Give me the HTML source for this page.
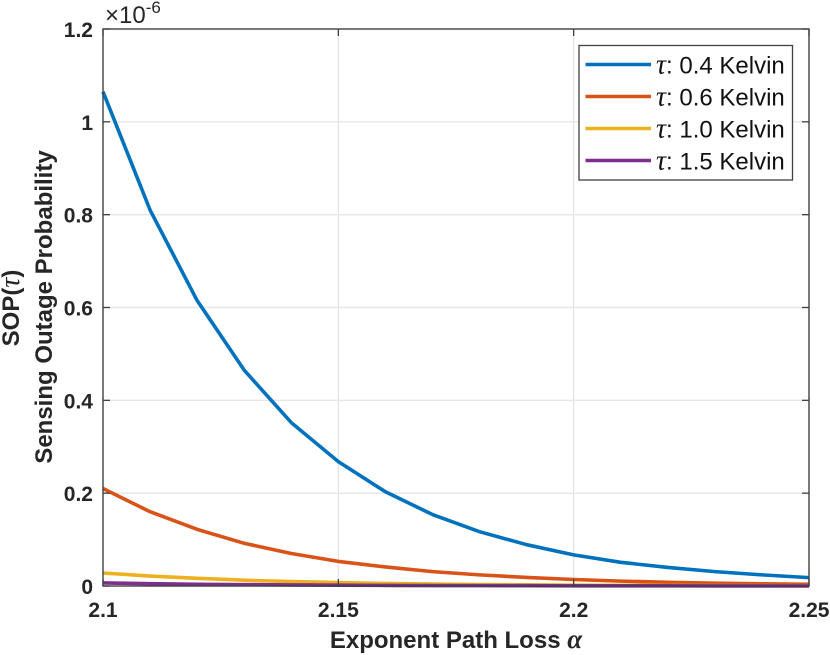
<!DOCTYPE html>
<html>
<head>
<meta charset="utf-8">
<style>
html,body{margin:0;padding:0;background:#fff;}
svg{display:block;}
text{font-family:"Liberation Sans",sans-serif;fill:#262626;}
.tick{font-size:21px;font-weight:bold;}
.title{font-size:24px;font-weight:bold;}
.leg{font-size:24px;fill:#111;}
.sym{font-family:"Liberation Serif","DejaVu Serif",serif;font-style:italic;}
</style>
</head>
<body>
<svg id="chart" width="830" height="655" viewBox="0 0 830 655" xmlns="http://www.w3.org/2000/svg">
  <rect x="103" y="29" width="706" height="557" fill="#fff"/>
  <g id="grid"></g>
  <g id="series"></g>
  <g id="axes"></g>
  <text x="105" y="23" style="font-size:24px;">×10<tspan dy="-10" style="font-size:17px;">-6</tspan></text>
  <text class="title" x="456" y="648" text-anchor="middle">Exponent Path Loss <tspan class="sym" style="font-size:27px;">α</tspan></text>
  <text class="title" text-anchor="middle" transform="translate(19,308) rotate(-90)">SOP(<tspan class="sym" style="font-weight:normal;font-size:28px;">τ</tspan>)</text>
  <text class="title" text-anchor="middle" transform="translate(52,307) rotate(-90)">Sensing Outage Probability</text>
  <g id="legend"></g>
</svg>
<script>
const alphaValues = [2.1, 2.11, 2.12, 2.13, 2.14, 2.15, 2.16, 2.17, 2.18, 2.19, 2.2, 2.21, 2.22, 2.23, 2.24, 2.25];
const sopTau04 = [1.065, 0.81, 0.615, 0.465, 0.352, 0.268, 0.203, 0.154, 0.117, 0.089, 0.067, 0.051, 0.04, 0.031, 0.024, 0.018];
const sopTau06 = [0.21, 0.16, 0.122, 0.092, 0.07, 0.053, 0.041, 0.031, 0.024, 0.0185, 0.014, 0.0105, 0.008, 0.006, 0.0048, 0.0036];
const sopTau10 = [0.028, 0.0215, 0.0165, 0.0125, 0.0095, 0.0073, 0.0055, 0.0042, 0.0032, 0.0025, 0.0019, 0.0015, 0.0011, 0.0008, 0.0006, 0.0005];
const sopTau15 = [0.0065, 0.005, 0.0038, 0.0029, 0.0022, 0.0017, 0.0013, 0.001, 0.0008, 0.0006, 0.0005, 0.0004, 0.0003, 0.0002, 0.0002, 0.0001];
const xTicks = [2.1, 2.15, 2.2, 2.25];
const xTickLabels = ['2.1', '2.15', '2.2', '2.25'];
const yTicks = [0, 0.2, 0.4, 0.6, 0.8, 1, 1.2];
const yTickLabels = ['0', '0.2', '0.4', '0.6', '0.8', '1', '1.2'];
const seriesLabels = ['0.4 Kelvin', '0.6 Kelvin', '1.0 Kelvin', '1.5 Kelvin'];
const seriesNames = ['tau-0-4', 'tau-0-6', 'tau-1-0', 'tau-1-5'];
const seriesColors = ['#0072BD', '#D95319', '#EDB120', '#7E2F8E'];
const seriesValues = [sopTau04, sopTau06, sopTau10, sopTau15];

const NS = 'http://www.w3.org/2000/svg';
const L = 103, R = 809, T = 29, B = 586;
const xMin = 2.1, xMax = 2.25, yMin = 0, yMax = 1.2;
function xScale(v) { return L + (v - xMin) / (xMax - xMin) * (R - L); }
function yScale(v) { return B - (v - yMin) / (yMax - yMin) * (B - T); }
function mk(tag, attrs, parent) {
  const el = document.createElementNS(NS, tag);
  for (const k in attrs) el.setAttribute(k, attrs[k]);
  parent.appendChild(el);
  return el;
}
const gGrid = document.getElementById('grid');
const gSeries = document.getElementById('series');
const gAxes = document.getElementById('axes');
const gLegend = document.getElementById('legend');
const axisColor = '#404040';
const gridColor = '#e6e6e6';

xTicks.forEach(function (t, i) {
  const x = xScale(t);
  if (t > xMin && t < xMax) {
    const g = mk('line', {x1: x, x2: x, y1: T, y2: B, stroke: gridColor, 'stroke-width': 1.4}, gGrid);
    
    
  }
  const a = mk('line', {x1: x, x2: x, y1: B, y2: B - 7, stroke: axisColor, 'stroke-width': 1.3}, gAxes);
  
  
  const b = mk('line', {x1: x, x2: x, y1: T, y2: T + 7, stroke: axisColor, 'stroke-width': 1.3}, gAxes);
  
  
  const lab = mk('text', {x: x, y: 617, 'text-anchor': 'middle', class: 'tick'}, gAxes);
  lab.textContent = xTickLabels[i];
  
  
});

yTicks.forEach(function (t, i) {
  const y = yScale(t);
  if (t > yMin && t < yMax) {
    const g = mk('line', {x1: L, x2: R, y1: y, y2: y, stroke: gridColor, 'stroke-width': 1.4}, gGrid);
    
    
  }
  const a = mk('line', {x1: L, x2: L + 7, y1: y, y2: y, stroke: axisColor, 'stroke-width': 1.3}, gAxes);
  
  
  const b = mk('line', {x1: R, x2: R - 7, y1: y, y2: y, stroke: axisColor, 'stroke-width': 1.3}, gAxes);
  
  
  const lab = mk('text', {x: 93, y: y + 8, 'text-anchor': 'end', class: 'tick'}, gAxes);
  lab.textContent = yTickLabels[i];
  
  
});

const frame = mk('rect', {x: L, y: T, width: R - L, height: B - T, fill: 'none', stroke: axisColor, 'stroke-width': 1.4}, gAxes);



seriesValues.forEach(function (vals, s) {
  const pts = vals.map(function (v, i) { return xScale(alphaValues[i]).toFixed(2) + ',' + yScale(v).toFixed(2); }).join(' ');
  const line = mk('polyline', {points: pts, fill: 'none', stroke: seriesColors[s], 'stroke-width': 3.6, 'stroke-linejoin': 'round'}, gSeries);
  
  
});

const box = mk('rect', {x: 579, y: 45.5, width: 213.5, height: 134.5, fill: '#fff', stroke: axisColor, 'stroke-width': 1.3}, gLegend);


seriesLabels.forEach(function (label, i) {
  const y = 64.5 + i * 32;
  const sw = mk('line', {x1: 585.5, x2: 651, y1: y, y2: y, stroke: seriesColors[i], 'stroke-width': 3.6}, gLegend);
  
  
  const t = mk('text', {x: 656, y: y + 9, class: 'leg'}, gLegend);
  
  
  const tau = mk('tspan', {class: 'sym', style: 'font-size:28px;'}, t);
  tau.textContent = 'τ';
  const rest = mk('tspan', {}, t);
  rest.textContent = ': ' + label;
});
</script>
</body>
</html>
